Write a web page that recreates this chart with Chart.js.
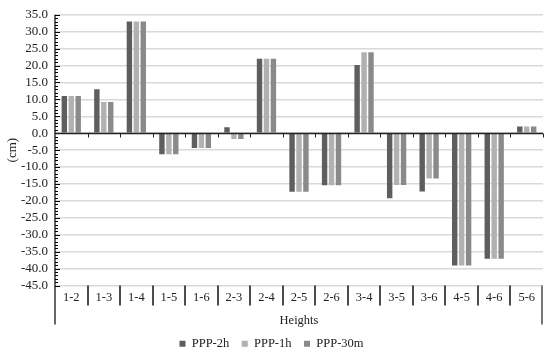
<!DOCTYPE html>
<html>
<head>
<meta charset="utf-8">
<script src="https://cdn.jsdelivr.net/npm/chart.js@4.4.0/dist/chart.umd.min.js"></script>
<style>
  html, body { margin: 0; padding: 0; background: #fff; }
  #wrap { width: 550px; height: 352px; }
</style>
</head>
<body>
<div id="wrap"><canvas id="myChart"></canvas></div>
<script>
const heights = ['1-2', '1-3', '1-4', '1-5', '1-6', '2-3', '2-4', '2-5', '2-6', '3-4', '3-5', '3-6', '4-5', '4-6', '5-6'];
const ppp2h  = [11, 13, 33, -6.2, -4.4, 1.8, 22, -17.3, -15.4, 20.2, -19.2, -17.2, -39.1, -37.1, 2.0];
const ppp1h  = [11, 9.2, 33, -6.2, -4.4, -1.7, 22, -17.3, -15.4, 23.9, -15.3, -13.4, -39.1, -37.1, 2.0];
const ppp30m = [11, 9.2, 33, -6.2, -4.4, -1.7, 22, -17.3, -15.4, 23.9, -15.3, -13.4, -39.1, -37.1, 2.0];

const yMin = -45, yMax = 35, yStep = 5;

const serif = 'Liberation Serif';

// axis line, inner ticks, zero line and the category separators below the plot
const extras = {
  id: 'extras',
  afterDraw(chart) {
    const c = chart.ctx;
    const area = chart.chartArea;
    const y = chart.scales.y;
    const y0 = Math.round(y.getPixelForValue(0)) + 0.5;
    const n = heights.length;
    const w = (area.right - area.left) / n;
    c.save();

    // y axis line, extended below the plot
    c.strokeStyle = '#000';
    c.lineWidth = 1.2;
    c.beginPath();
    c.moveTo(area.left, area.top);
    c.lineTo(area.left, area.bottom + 39);
    c.stroke();

    // minor + major ticks pointing inward
    c.lineWidth = 1;
    for (let v = yMin; v <= yMax; v += 1) {
      const py = Math.round(y.getPixelForValue(v)) + 0.5;
      const len = (v % yStep === 0) ? 5 : 3;
      c.beginPath();
      c.moveTo(area.left, py);
      c.lineTo(area.left + len, py);
      c.stroke();
    }

    // zero line
    c.strokeStyle = '#222';
    c.lineWidth = 1.3;
    c.beginPath();
    c.moveTo(area.left, y0);
    c.lineTo(area.right, y0);
    c.stroke();

    // small ticks on the zero line at category boundaries
    c.lineWidth = 1;
    for (let i = 1; i <= n; i++) {
      const px = Math.round(area.left + i * w) + 0.5;
      c.beginPath();
      c.moveTo(px, y0);
      c.lineTo(px, y0 + 4);
      c.stroke();
    }

    // separators between category labels
    c.strokeStyle = '#111';
    c.lineWidth = 1.5;
    for (let i = 1; i < n; i++) {
      const px = Math.round(area.left + i * w);
      c.beginPath();
      c.moveTo(px, area.bottom);
      c.lineTo(px, area.bottom + 20);
      c.stroke();
    }
    c.strokeStyle = '#777';
    c.lineWidth = 2;
    c.beginPath();
    c.moveTo(area.right - 1, area.bottom);
    c.lineTo(area.right - 1, area.bottom + 39);
    c.stroke();

    c.restore();
  }
};

new Chart(document.getElementById('myChart'), {
  type: 'bar',
  data: {
    labels: heights,
    datasets: [{
      label: 'PPP-2h',
      data: ppp2h,
      backgroundColor: '#5e5e5e',
      borderWidth: 0
    }, {
      label: 'PPP-1h',
      data: ppp1h,
      backgroundColor: '#b1b1b1',
      borderWidth: 0
    }, {
      label: 'PPP-30m',
      data: ppp30m,
      backgroundColor: '#8a8a8a',
      borderWidth: 0
    }]
  },
  plugins: [extras],
  options: {
    responsive: true,
    maintainAspectRatio: false,
    animation: false,
    layout: {
      padding: { top: 13, right: 7, left: 0, bottom: -8 }
    },
    datasets: {
      bar: {
        categoryPercentage: 0.64,
        barPercentage: 0.78
      }
    },
    scales: {
      x: {
        grid: { display: false, drawTicks: false },
        border: { display: false },
        ticks: {
          color: '#222',
          padding: 5,
          maxRotation: 0,
          font: { family: serif, size: 12.5 }
        },
        title: {
          display: true,
          text: 'Heights',
          color: '#222',
          padding: { top: 4, bottom: 9 },
          font: { family: serif, size: 12.5 }
        },
        afterFit(s) { s.height = 52; }
      },
      y: {
        min: yMin,
        max: yMax,
        ticks: {
          stepSize: yStep,
          autoSkip: false,
          color: '#222',
          padding: 7,
          font: { family: serif, size: 13 },
          callback: (v) => Number(v).toFixed(1)
        },
        grid: {
          color: '#d9d9d9',
          lineWidth: 1.5,
          drawTicks: false
        },
        border: { display: false },
        title: {
          display: true,
          text: '(cm)',
          color: '#222',
          padding: { top: 5, bottom: 2 },
          font: { family: serif, size: 13 }
        },
        afterFit(s) { s.width = 55; }
      }
    },
    plugins: {
      legend: {
        display: true,
        position: 'bottom',
        labels: {
          color: '#222',
          boxWidth: 6,
          boxHeight: 6,
          padding: 0,
          font: { family: serif, size: 12.5 },
          generateLabels(chart) {
            const items = Chart.defaults.plugins.legend.labels.generateLabels(chart);
            items.forEach((it, i) => {
              it.lineWidth = 0;
              if (i < items.length - 1) it.text = it.text + '    ';
            });
            return items;
          }
        }
      },
      tooltip: { enabled: false }
    }
  }
});
</script>
</body>
</html>
